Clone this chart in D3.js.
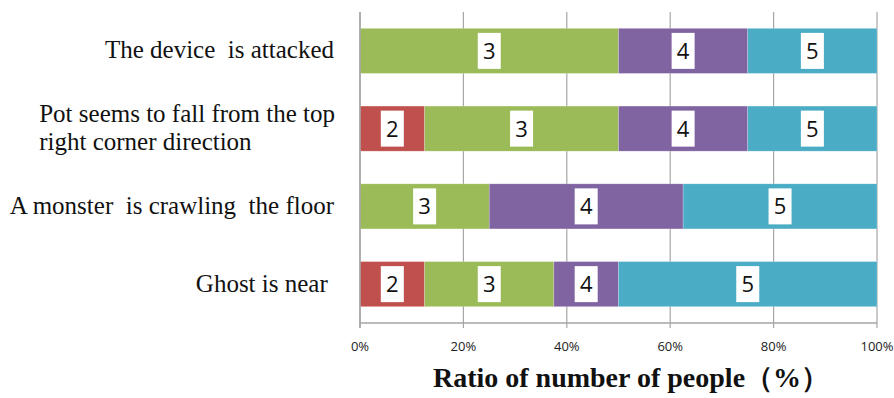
<!DOCTYPE html>
<html>
<head>
<meta charset="utf-8">
<script src="https://cdn.jsdelivr.net/npm/d3@7"></script>
<style>
  html, body { margin: 0; padding: 0; background: #fff; }
  svg { display: block; }
</style>
</head>
<body>
<svg id="chart" width="894" height="398"></svg>
<script>
// Survey responses: share of people (%) giving each score, per scene
const categories = [
  "The device  is attacked",
  "Pot seems to fall from the top|right corner direction",
  "A monster  is crawling  the floor",
  "Ghost is near "
];
const seriesNames = ["2", "3", "4", "5"];
const score2 = [0, 12.5, 0, 12.5];
const score3 = [50, 37.5, 25, 25];
const score4 = [25, 25, 37.5, 12.5];
const score5 = [25, 25, 37.5, 50];
const seriesColors = ["#C0504D", "#9BBB59", "#8064A2", "#4BACC6"];
const tickValues = [0, 20, 40, 60, 80, 100];
const axisTitle = "Ratio of number of people（%）";

const rows = categories.map((c, i) => ({
  cat: c, "2": score2[i], "3": score3[i], "4": score4[i], "5": score5[i]
}));

const svg = d3.select("#chart");
const margin = { left: 360, right: 17, top: 12, bottom: 75 };
const W = 894, H = 398;

const x = d3.scaleLinear().domain([0, 100]).range([margin.left, W - margin.right]);
const y = d3.scaleBand().domain(categories)
  .range([margin.top, H - margin.bottom]).paddingInner(0.42).paddingOuter(0.21);

// vertical gridlines
svg.append("g")
  .selectAll("line").data(tickValues).join("line")
  .attr("x1", d => x(d)).attr("x2", d => x(d))
  .attr("y1", margin.top).attr("y2", H - margin.bottom + 5)
  .attr("stroke", "#A6A6A6").attr("stroke-width", 1.2);

// stacked bars
const stacked = d3.stack().keys(seriesNames)(rows);
const layers = svg.append("g").selectAll("g").data(stacked).join("g")
  .attr("fill", (d, i) => seriesColors[i]);

layers.selectAll("rect").data(d => d.filter(p => p[1] - p[0] > 0)).join("rect")
  .attr("x", d => x(d[0]))
  .attr("width", d => x(d[1]) - x(d[0]))
  .attr("y", d => y(d.data.cat))
  .attr("height", y.bandwidth())
  .attr("stroke", "rgba(255,255,255,0.35)")
  .attr("stroke-width", 0.6);

// series labels in white boxes at segment centres
layers.each(function (layer) {
  const g = d3.select(this);
  const segs = layer.filter(p => p[1] - p[0] > 0);
  const lab = g.selectAll("g.lab").data(segs).join("g").attr("class", "lab")
    .attr("transform", d => `translate(${x((d[0] + d[1]) / 2)},${y(d.data.cat) + y.bandwidth() / 2})`);
  lab.append("rect")
    .attr("x", -11.5).attr("y", -18).attr("width", 23).attr("height", 36)
    .attr("fill", "#fff");
  lab.append("text")
    .attr("text-anchor", "middle").attr("dy", "0.36em")
    .attr("font-family", "'Open Sans', 'Liberation Sans', sans-serif")
    .attr("font-size", 22).attr("fill", "#111")
    .text(layer.key);
});

// bottom axis line
svg.append("line")
  .attr("x1", x(0)).attr("x2", x(100))
  .attr("y1", H - margin.bottom).attr("y2", H - margin.bottom)
  .attr("stroke", "#A6A6A6").attr("stroke-width", 1.5);

// left axis line
svg.append("line")
  .attr("x1", x(0)).attr("x2", x(0))
  .attr("y1", margin.top).attr("y2", H - margin.bottom + 5)
  .attr("stroke", "#A6A6A6").attr("stroke-width", 1.5);

// tick labels
svg.append("g").selectAll("text").data(tickValues).join("text")
  .attr("x", d => x(d)).attr("y", 346).attr("dy", "0.35em")
  .attr("text-anchor", "middle")
  .attr("font-family", "'Open Sans', 'Liberation Sans', sans-serif")
  .attr("font-size", 13).attr("fill", "#222")
  .text(d => d + "%");

// category labels
const catG = svg.append("g")
  .attr("font-family", "'Liberation Serif', 'Times New Roman', serif")
  .attr("font-size", 25).attr("fill", "#111");
categories.forEach(c => {
  const lines = c.split("|");
  const cy = y(c) + y.bandwidth() / 2;
  const t = catG.append("text").attr("xml:space", "preserve").style("white-space", "pre");
  if (lines.length === 1) {
    t.attr("x", 334).attr("y", cy).attr("dy", "0.3em").attr("text-anchor", "end").text(lines[0]);
  } else {
    const lh = 28;
    const t0 = cy - lh * (lines.length - 1) / 2;
    // wrapped label: left-aligned block ending at the axis gap
    const tmp = catG.append("text").text(lines[0]);
    const w = tmp.node().getComputedTextLength();
    tmp.remove();
    lines.forEach((ln, k) => {
      t.append("tspan").attr("x", 335 - w).attr("y", t0 + k * lh).attr("dy", "0.3em").text(ln);
    });
  }
});

// axis title
svg.append("text")
  .attr("x", 631).attr("y", 387)
  .attr("text-anchor", "middle")
  .attr("font-family", "'Liberation Serif', 'Times New Roman', serif")
  .attr("font-weight", "bold").attr("font-size", 28).attr("fill", "#111")
  .text(axisTitle);
</script>
</body>
</html>
